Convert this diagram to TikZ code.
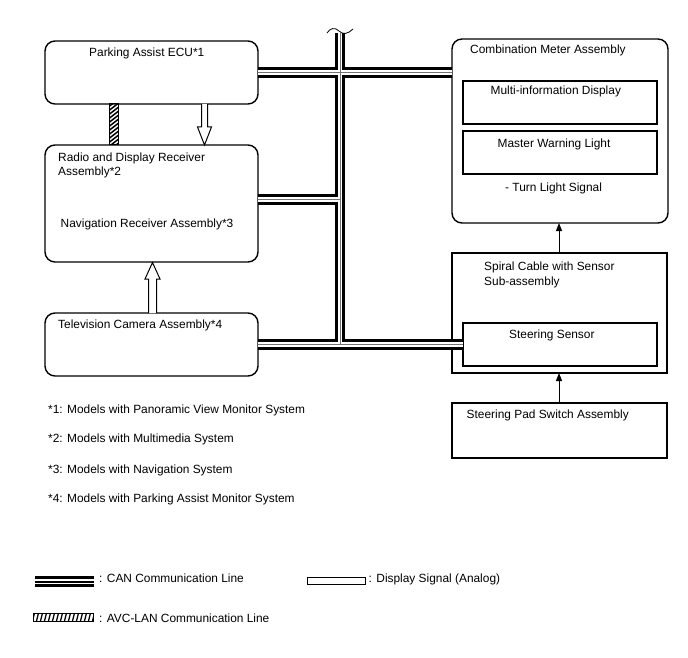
\documentclass[tikz,border=0pt]{standalone}
\usepackage{fontspec}
\setmainfont{Liberation Sans}
\usetikzlibrary{arrows.meta}
\begin{document}
\begin{tikzpicture}[x=1pt,y=-1pt,
  font=\fontsize{11.9}{14}\selectfont,
  rbox/.style={draw, line width=1.4pt, rounded corners=10pt, inner sep=0pt, outer sep=0pt},
  sbox/.style={draw, line width=1.4pt, inner sep=0pt, outer sep=0pt},
  txt/.style={anchor=base west, inner sep=0pt},
  canblack/.style={line width=10.5pt, black},
  canwhite/.style={line width=4.6pt, white},
  cancenter/.style={line width=0.5pt, black!55},
  sig/.style={line width=1pt, -{Triangle[width=6pt,length=8pt]}},
  hollow/.style={draw, line width=1pt, fill=white, line join=miter},
  hatchline/.style={line width=1.5pt}]
\path[use as bounding box] (0,0) rectangle (688,658);

% boxes
\node[rbox, minimum width=213pt, minimum height=63pt] (ecu) at (151.5,72.5) {};
\node[rbox, minimum width=213pt, minimum height=117pt] (radio) at (151.5,203.5) {};
\node[rbox, minimum width=213pt, minimum height=63pt] (tv) at (151.5,344.5) {};
\node[rbox, minimum width=216pt, minimum height=184pt] (combo) at (560,131) {};
\node[sbox, minimum width=194pt, minimum height=43pt] (mid) at (560,102.5) {};
\node[sbox, minimum width=194pt, minimum height=43pt] (mwl) at (560,152.5) {};
\node[sbox, minimum width=215pt, minimum height=120pt] (spiral) at (559.5,313) {};
\node[sbox, minimum width=194pt, minimum height=43pt] (ssensor) at (560,344.5) {};
\node[sbox, minimum width=215pt, minimum height=55pt] (pad) at (559.5,430.5) {};

% texts
\node[txt] (t1) at (89,57) {Parking Assist ECU*1};
\node[txt] (t2) at (58,161) {Radio and Display Receiver};
\node[txt] (t3) at (58,175.5) {Assembly*2};
\node[txt] (t4) at (60.5,227) {Navigation Receiver Assembly*3};
\node[txt] (t5) at (58,328.5) {Television Camera Assembly*4};
\node[txt] (t6) at (470,54) {Combination Meter Assembly};
\node[txt] (t7) at (490.5,95) {Multi-information Display};
\node[txt] (t8) at (497.5,147) {Master Warning Light};
\node[txt] (t9) at (505,191) {- Turn Light Signal};
\node[txt] (t10) at (484,270) {Spiral Cable with Sensor};
\node[txt] (t11) at (484,285) {Sub-assembly};
\node[txt] (t12) at (509,338) {Steering Sensor};
\node[txt] (t13) at (466.5,418.5) {Steering Pad Switch Assembly};

% footnotes
\node[txt] (f1) at (48,413.5) {*1: Models with Panoramic View Monitor System};
\node[txt] (f2) at (48,442) {*2: Models with Multimedia System};
\node[txt] (f3) at (48,473) {*3: Models with Navigation System};
\node[txt] (f4) at (48,502) {*4: Models with Parking Assist Monitor System};

% CAN bus
\coordinate (bt) at (340,33);
\coordinate (rj) at ([yshift=4pt]radio.east);
\foreach \s in {canblack,canwhite,cancenter}{
  \draw[\s] (ecu.east) -- (combo.west |- ecu.east)
    (bt) -- (bt |- tv.east)
    (rj) -- (bt |- rj)
    (tv.east) -- (ssensor.west |- tv.east);
}
% break mark
\draw[line width=0.8pt] (327,33) .. controls (330,28) and (335,27) .. (339,31)
  .. controls (343,35) and (348,34) .. (353,29);

% AVC-LAN hatched connector
\coordinate (hx) at (113.5,0);
\begin{scope}
  \clip (109,104) rectangle (118,145);
  \foreach \i in {0,...,14}{
    \draw[hatchline] (107,100+4*\i) -- (120,90+4*\i);
  }
\end{scope}
\draw[line width=1pt] ([xshift=-4.5pt]hx |- ecu.south) rectangle ([xshift=4.5pt]hx |- radio.north);

% display signal arrows
\draw[hollow] (201.5,104) -- (201.5,127) -- (197.5,127) -- (204.5,145) -- (211.5,127) -- (207.5,127) -- (207.5,104);
\draw[hollow] (148.5,313) -- (148.5,279) -- (145,279) -- (152.5,262.5) -- (160,279) -- (156.5,279) -- (156.5,313);

% signal arrows
\coordinate (ax) at (559,0);
\draw[sig] (ax |- spiral.north) -- (ax |- combo.south);
\draw[sig] (ax |- pad.north) -- (ax |- spiral.south);

% legend
\draw[line width=11pt] (35,581.5) coordinate (lc1) -- (94,581.5) coordinate (lc2);
\draw[line width=5.5pt, white] (lc1) -- (lc2);
\draw[line width=2pt] (lc1) -- (lc2);
\node[txt] (l1) at (99,582) {: CAN Communication Line};

\draw[line width=1pt] (307,577) rectangle (365,584.5);
\node[txt] (l2) at (368.5,582) {: Display Signal (Analog)};

\begin{scope}
  \clip (33,613) rectangle (93,621);
  \foreach \i in {0,...,16}{
    \draw[line width=1.3pt] (28+4*\i,623) -- (31+4*\i,611);
  }
\end{scope}
\draw[line width=1pt] (33,613) rectangle (93,621);
\node[txt] (l3) at (99,622) {: AVC-LAN Communication Line};
\end{tikzpicture}
\end{document}
